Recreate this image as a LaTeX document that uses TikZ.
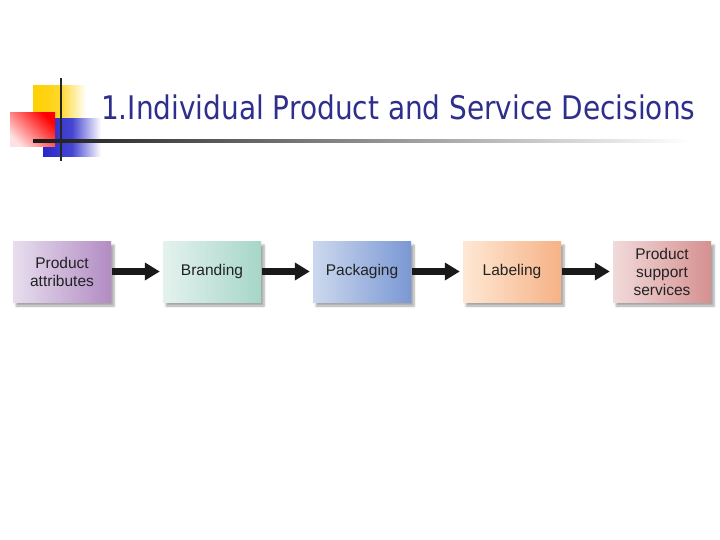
\documentclass[tikz,border=0pt]{standalone}
\usepackage{fontspec}
\setmainfont{Liberation Sans}
\newfontfamily\titlefont{DejaVu Sans}
\usetikzlibrary{arrows.meta,shadows.blur}
\definecolor{titleblue}{HTML}{2E2E8C}
\definecolor{boxtext}{HTML}{222222}
\begin{document}
\begin{tikzpicture}[x=1pt,y=-1pt,
  stepbox/.style={minimum width=98pt,minimum height=61pt,inner sep=2pt,align=center,
    font=\fontsize{15.5}{18}\selectfont,text=boxtext,
    blur shadow={shadow xshift=3pt,shadow yshift=-4pt,shadow blur steps=6,shadow opacity=35}},
  flow/.style={line width=7pt,-{Triangle[length=15pt,width=17pt]},shorten <=1pt,shorten >=3pt,black!90}]
\useasboundingbox (0,0) rectangle (720,540);
% decoration
\shade[left color={rgb,255:red,255;green,208;blue,0},right color=white,middle color={rgb,255:red,255;green,215;blue,40}] (33,86) rectangle (86,140);
\shade[left color={rgb,255:red,40;green,40;blue,200},right color=white,middle color={rgb,255:red,70;green,70;blue,210}] (43,119) rectangle (101,157);
\shade[left color={rgb,255:red,255;green,225;blue,225},right color=red,shading angle=135] (10,113) rectangle (55,147);
\shade[left color=black!90,middle color=black!55,right color=white] (33,139.5) rectangle (690,142.5);
\draw[line width=2pt,black!85] (61,78) -- (61,161);
% title
\node[anchor=base west,inner sep=0pt,text=titleblue] (title) at (101,120) {\resizebox{594pt}{\height}{\titlefont\fontsize{32.5}{36}\selectfont 1.Individual Product and Service Decisions}};
% boxes
\node[stepbox,left color={rgb,255:red,232;green,222;blue,238},right color={rgb,255:red,178;green,140;blue,196}] (b1) at (62,271.5) {Product\\attributes};
\node[stepbox,left color={rgb,255:red,228;green,242;blue,238},right color={rgb,255:red,166;green,214;blue,200}] (b2) at (212,271.5) {Branding};
\node[stepbox,left color={rgb,255:red,204;green,216;blue,238},right color={rgb,255:red,122;green,152;blue,212}] (b3) at (362,271.5) {Packaging};
\node[stepbox,left color={rgb,255:red,254;green,232;blue,212},right color={rgb,255:red,246;green,178;blue,134}] (b4) at (512,271.5) {Labeling};
\node[stepbox,left color={rgb,255:red,242;green,218;blue,218},right color={rgb,255:red,214;green,144;blue,144}] (b5) at (662,271.5) {Product\\support\\services};
\draw[flow] (b1) -- (b2);
\draw[flow] (b2) -- (b3);
\draw[flow] (b3) -- (b4);
\draw[flow] (b4) -- (b5);
\end{tikzpicture}
\end{document}
